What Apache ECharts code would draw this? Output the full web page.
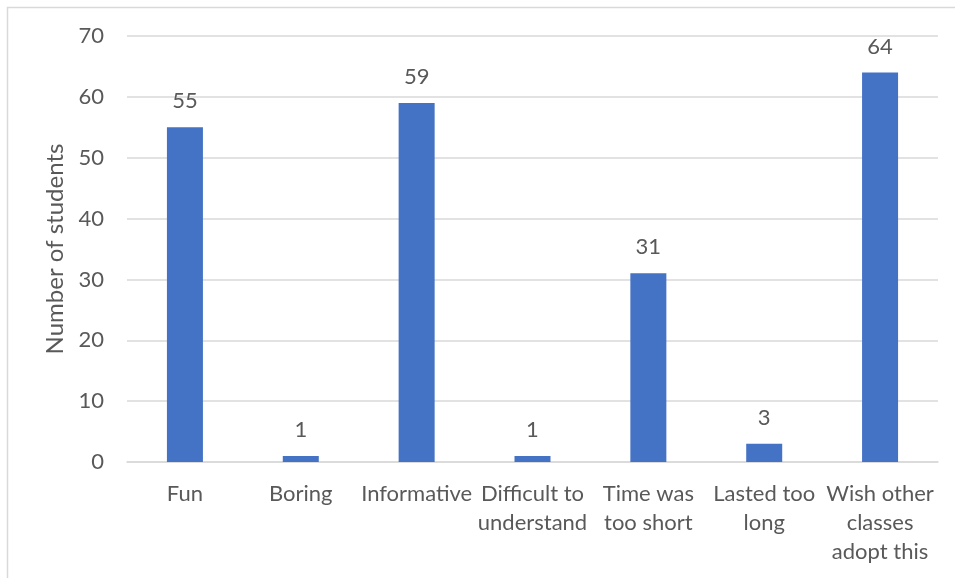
<!DOCTYPE html>
<html>
<head>
<meta charset="utf-8">
<script src="https://cdn.jsdelivr.net/npm/echarts@6/dist/echarts.min.js"></script>
<style>
  html, body { margin: 0; padding: 0; background: #fff; }
  #chart { width: 955px; height: 578px; }
</style>
</head>
<body>
<div id="chart"></div>
<script>
// Survey responses: how students rated the activity
const categories = [
  'Fun',
  'Boring',
  'Informative',
  'Difficult to\nunderstand',
  'Time was\ntoo short',
  'Lasted too\nlong',
  'Wish other\nclasses\nadopt this'
];
const studentCounts = [55, 1, 59, 1, 31, 3, 64];
const yTicks = { min: 0, max: 70, interval: 10 };

const textColor = '#595959';
const fontFamily = 'Lato, Open Sans, sans-serif';

const chart = echarts.init(document.getElementById('chart'), null, { renderer: 'canvas' });
chart.setOption({
  backgroundColor: '#ffffff',
  animation: false,
  graphic: [{
    type: 'rect',
    shape: { x: 7.5, y: 7.5, width: 980, height: 620 },
    style: { fill: 'none', stroke: '#d9d9d9', lineWidth: 1.5 },
    silent: true
  }],
  grid: { left: 127, right: 17, top: 36, bottom: 116 },
  xAxis: {
    type: 'category',
    data: categories,
    axisLine: { lineStyle: { color: '#d9d9d9', width: 1.5 } },
    axisTick: { show: false },
    axisLabel: {
      color: textColor,
      fontFamily: fontFamily,
      fontSize: 22,
      lineHeight: 29,
      margin: 17,
      interval: 0
    }
  },
  yAxis: {
    type: 'value',
    min: yTicks.min,
    max: yTicks.max,
    interval: yTicks.interval,
    name: 'Number of students',
    nameLocation: 'middle',
    nameGap: 51,
    nameTextStyle: { color: textColor, fontFamily: fontFamily, fontSize: 24 },
    axisLine: { show: false },
    axisTick: { show: false },
    axisLabel: { color: textColor, fontFamily: fontFamily, fontSize: 22, margin: 23 },
    splitLine: { lineStyle: { color: '#d9d9d9', width: 1.5 } }
  },
  series: [{
    type: 'bar',
    data: studentCounts,
    barWidth: 36,
    itemStyle: { color: '#4472C4' },
    label: {
      show: true,
      position: 'top',
      distance: 15,
      color: textColor,
      fontFamily: fontFamily,
      fontSize: 22
    }
  }]
});
</script>
</body>
</html>
